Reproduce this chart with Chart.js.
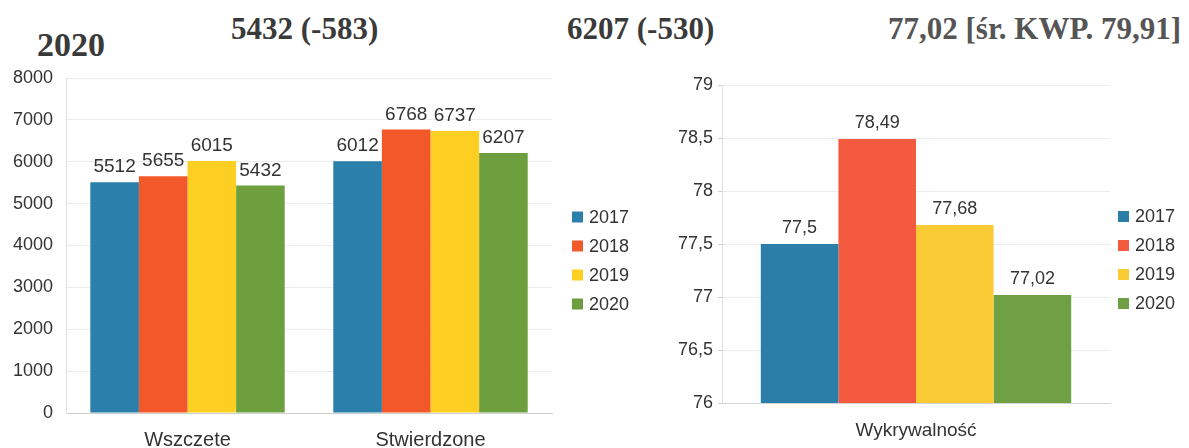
<!DOCTYPE html>
<html>
<head>
<meta charset="utf-8">
<script src="https://cdn.jsdelivr.net/npm/chart.js@4"></script>
<style>
  html, body { margin:0; padding:0; background:#fff; }
  #wrap { position:relative; width:1189px; height:448px; background:#fff; overflow:hidden; }
  .t { position:absolute; font-family:"Liberation Serif", serif; font-weight:bold; white-space:nowrap; line-height:1; }
  .box { position:absolute; top:0; height:448px; }
</style>
</head>
<body>
<div id="wrap">
  <div class="t" style="left:37px;top:28px;font-size:34px;color:#3a3a3a;">2020</div>
  <div class="t" style="left:231px;top:13px;font-size:31px;color:#3a3a3a;">5432 (-583)</div>
  <div class="t" style="left:567px;top:13px;font-size:31px;color:#3a3a3a;">6207 (-530)</div>
  <div class="t" style="left:888px;top:13px;font-size:31px;color:#555;">77,02 [śr. KWP. 79,91]</div>
  <div class="box" style="left:0;width:650px;"><canvas id="c1"></canvas></div>
  <div class="box" style="left:650px;width:539px;"><canvas id="c2"></canvas></div>
</div>
<script>
// ---- data ----
const years = ['2017', '2018', '2019', '2020'];
const leftCategories = ['Wszczete', 'Stwierdzone'];
const left2017 = [5512, 6012];
const left2018 = [5655, 6768];
const left2019 = [6015, 6737];
const left2020 = [5432, 6207];
const leftTickMin = 0, leftTickMax = 8000, leftTickStep = 1000;

const rightCategories = ['Wykrywalność'];
const detection = [77.5, 78.49, 77.68, 77.02];
const rightTickMin = 76, rightTickMax = 79, rightTickStep = 0.5;

// ---- style ----
const leftColors = ['#2a7fab', '#f2582a', '#fdcf22', '#6e9f3e'];
const rightColors = ['#2b7ea8', '#f45a40', '#fbcb35', '#70a044'];
const SANS = '"Liberation Sans", Arial, sans-serif';
const TXT = '#333';

function fmtPL(v) { return String(v).replace('.', ','); }

const valueLabels = {
  id: 'valueLabels',
  afterDatasetsDraw(chart, args, opts) {
    const ctx = chart.ctx;
    ctx.save();
    ctx.font = opts.size + 'px ' + SANS;
    ctx.fillStyle = TXT;
    ctx.textAlign = 'center';
    ctx.textBaseline = 'middle';
    chart.data.datasets.forEach((ds, di) => {
      const meta = chart.getDatasetMeta(di);
      meta.data.forEach((el, i) => {
        ctx.fillText(fmtPL(ds.data[i]), el.x, el.y - opts.offset);
      });
    });
    ctx.restore();
  }
};

const sideLegend = {
  id: 'sideLegend',
  afterDraw(chart, args, opts) {
    const ctx = chart.ctx;
    const ca = chart.chartArea;
    const n = chart.data.datasets.length;
    const mid = (ca.top + ca.bottom) / 2 + opts.shift;
    const y0 = mid - (n - 1) * opts.gap / 2;
    ctx.save();
    ctx.font = opts.size + 'px ' + SANS;
    ctx.textAlign = 'left';
    ctx.textBaseline = 'middle';
    chart.data.datasets.forEach((ds, i) => {
      const y = y0 + i * opts.gap;
      ctx.fillStyle = ds.backgroundColor;
      ctx.fillRect(opts.x, y - opts.box / 2, opts.box, opts.box);
      ctx.fillStyle = TXT;
      ctx.fillText(ds.label, opts.x + opts.box + 6, y + 1);
    });
    ctx.restore();
  }
};

function makeDatasets(arrays, colors) {
  return years.map((y, i) => ({
    label: y,
    data: arrays[i],
    backgroundColor: colors[i],
    borderWidth: 0,
    categoryPercentage: 0.8,
    barPercentage: 1.0
  }));
}

// ---- left chart ----
new Chart(document.getElementById('c1'), {
  type: 'bar',
  data: {
    labels: leftCategories,
    datasets: makeDatasets([left2017, left2018, left2019, left2020], leftColors)
  },
  options: {
    responsive: true, maintainAspectRatio: false, animation: false,
    layout: { padding: { left: 0, right: 98, top: 78, bottom: 0 } },
    plugins: {
      legend: { display: false }, tooltip: { enabled: false },
      valueLabels: { size: 19, offset: 15 },
      sideLegend: { x: 572, gap: 29, box: 11, size: 18, shift: 15 }
    },
    scales: {
      x: {
        afterFit: s => { s.height = 35; },
        grid: { display: false, drawTicks: false },
        border: { color: '#cfcfcf' },
        ticks: { color: TXT, font: { family: SANS, size: 20 }, padding: 15 }
      },
      y: {
        min: leftTickMin, max: leftTickMax,
        afterFit: s => { s.width = 66; },
        grid: { color: '#ececec', drawTicks: false },
        border: { color: '#e0e0e0' },
        ticks: { stepSize: leftTickStep, color: TXT, font: { family: SANS, size: 18 }, padding: 13,
                 callback: v => String(v) }
      }
    }
  },
  plugins: [valueLabels, sideLegend]
});

// ---- right chart ----
new Chart(document.getElementById('c2'), {
  type: 'bar',
  data: {
    labels: rightCategories,
    datasets: years.map((y, i) => ({
      label: y,
      data: [detection[i]],
      backgroundColor: rightColors[i],
      borderWidth: 0,
      categoryPercentage: 0.8,
      barPercentage: 1.0
    }))
  },
  options: {
    responsive: true, maintainAspectRatio: false, animation: false,
    layout: { padding: { left: 0, right: 79, top: 85, bottom: 0 } },
    plugins: {
      legend: { display: false }, tooltip: { enabled: false },
      valueLabels: { size: 18, offset: 16 },
      sideLegend: { x: 468, gap: 29, box: 11, size: 18, shift: 16 }
    },
    scales: {
      x: {
        afterFit: s => { s.height = 45; },
        grid: { display: false, drawTicks: false },
        border: { color: '#d5d5d5' },
        ticks: { color: TXT, font: { family: SANS, size: 19 }, padding: 16 }
      },
      y: {
        min: rightTickMin, max: rightTickMax,
        afterFit: s => { s.width = 72; },
        grid: { color: '#ececec', tickColor: '#cfcfcf', tickLength: 4 },
        border: { color: '#e0e0e0' },
        ticks: { stepSize: rightTickStep, color: TXT, font: { family: SANS, size: 18 }, padding: 5,
                 callback: v => fmtPL(v) }
      }
    }
  },
  plugins: [valueLabels, sideLegend]
});
</script>
</body>
</html>
